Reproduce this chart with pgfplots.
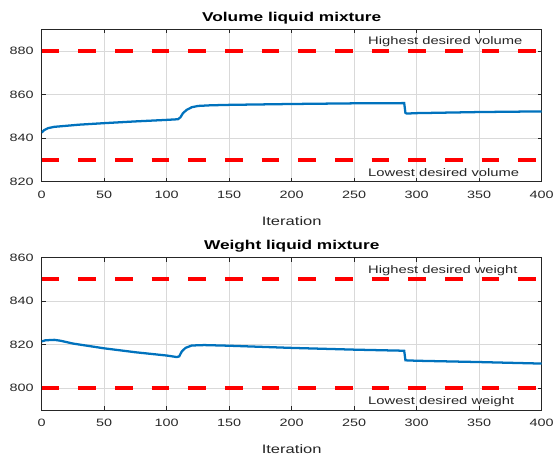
\documentclass[border=0pt]{standalone}
\usepackage{fontspec}
\setmainfont{Liberation Sans}[FakeStretch=1.35]
\usepackage{pgfplots}
\pgfplotsset{compat=1.18}

\definecolor{mblue}{RGB}{0,114,189}
\definecolor{mgray}{RGB}{38,38,38}

\pgfplotsset{
  every axis title shift=0pt,
  mstyle/.style={
    scale only axis, width=375pt, height=114.3pt,
    xmin=0, xmax=400, xtick={0,50,...,400},
    grid=major, major grid style={black!15, line width=0.5pt},
    axis line style={mgray, line width=0.6pt},
    tick align=inside, major tick length=3pt,
    tick style={mgray, line width=0.5pt},
    ticklabel style={font=\fontsize{8}{9}\selectfont, text=mgray},
    /pgf/number format/assume math mode=true,
    xticklabel style={yshift=-3.5pt},
    yticklabel style={xshift=-2.5pt},
    xlabel={Iteration},
    xlabel style={font=\fontsize{9.2}{11}\selectfont, text=mgray,
      at={(axis description cs:0.5,0)}, anchor=center, yshift=-29.5pt},
    title style={font=\bfseries\fontsize{9.6}{11}\selectfont,
      at={(axis description cs:0.5,1)}, anchor=base, yshift=6pt},
  },
}
\tikzset{
  limit/.style={red, line width=3pt, dash pattern=on 13.3pt off 14.2pt},
  series/.style={mblue, line width=1.7pt},
  note/.style={anchor=west, inner sep=0pt, text=mgray, font=\fontsize{8.2}{10}\selectfont},
}

\begin{document}
\begin{tikzpicture}
\path[use as bounding box] (-31.3pt,-208pt) rectangle (386.5pt,136.3pt);

% volume
\begin{axis}[mstyle, at={(0,0)}, anchor=south west,
  title={Volume liquid mixture},
  ymin=820, ymax=890, ytick={820,840,860,880}]
  \addplot[limit] coordinates {(0,880) (400,880)};
  \addplot[limit] coordinates {(0,830) (400,830)};
  \addplot[series] coordinates {
    (0,842.6) (2,843.7) (5,844.6) (10,845.2) (20,845.7) (30,846.2)
    (50,846.9) (75,847.7) (100,848.4) (109,848.7) (111,849.6) (113,851.5)
    (116,853.0) (120,854.2) (125,854.8) (135,855.1) (150,855.3)
    (200,855.7) (250,856.0) (290,856.1) (291,851.6) (292,851.3)
    (300,851.5) (350,852.0) (400,852.3)
  };
  \node[note] at (axis cs:261,884.3) {Highest desired volume};
  \node[note] at (axis cs:261,824.4) {Lowest desired volume};
\end{axis}

% weight
\begin{axis}[mstyle, at={(0,-171.2pt)}, anchor=south west,
  title={Weight liquid mixture},
  ymin=790, ymax=860, ytick={800,820,840,860}]
  \addplot[limit] coordinates {(0,850) (400,850)};
  \addplot[limit] coordinates {(0,800) (400,800)};
  \addplot[series] coordinates {
    (0,821.5) (3,822.0) (10,822.2) (15,821.8) (25,820.5) (50,818.3)
    (75,816.5) (100,815.0) (108,814.3) (110,814.6) (112,816.8)
    (115,818.5) (120,819.6) (130,819.8) (150,819.5) (200,818.5)
    (250,817.7) (290,817.2) (291,812.8) (300,812.6) (350,812.0)
    (400,811.3)
  };
  \node[note] at (axis cs:261,854.2) {Highest desired weight};
  \node[note] at (axis cs:261,793.6) {Lowest desired weight};
\end{axis}
\end{tikzpicture}
\end{document}
